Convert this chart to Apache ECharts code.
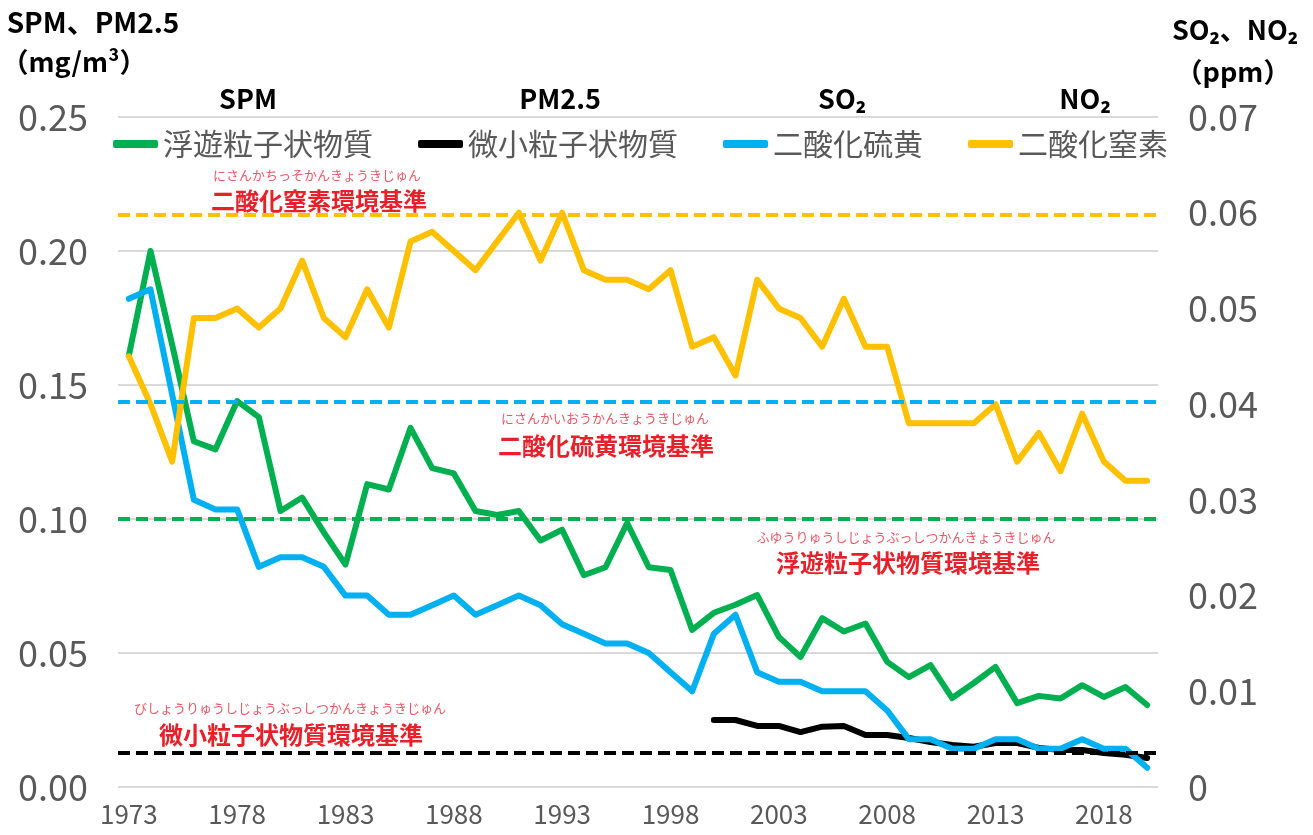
<!DOCTYPE html>
<html>
<head>
<meta charset="utf-8">
<script src="https://cdn.jsdelivr.net/npm/echarts@6/dist/echarts.min.js"></script>
<style>
  html, body { margin: 0; padding: 0; background: #fff; }
  #chart { width: 1313px; height: 835px; }
</style>
</head>
<body>
<div id="chart"></div>
<script>
// 年度 1973〜2020
const years = []
for (let y = 1973; y <= 2020; y++) years.push(String(y))

// 浮遊粒子状物質 SPM (mg/m3)
const spm = [0.161, 0.200, 0.165, 0.129, 0.126, 0.144, 0.138, 0.103, 0.108, 0.095,
  0.083, 0.113, 0.111, 0.134, 0.119, 0.117, 0.103, 0.1015, 0.103, 0.092,
  0.096, 0.079, 0.082, 0.0985, 0.082, 0.081, 0.0586, 0.065, 0.068, 0.0716,
  0.056, 0.0485, 0.063, 0.058, 0.061, 0.0467, 0.041, 0.0455, 0.0332, 0.0388,
  0.0448, 0.0313, 0.034, 0.033, 0.038, 0.0336, 0.0373, 0.0306]

// 微小粒子状物質 PM2.5 (mg/m3)、2000年度から
const pm25 = [null, null, null, null, null, null, null, null, null, null,
  null, null, null, null, null, null, null, null, null, null,
  null, null, null, null, null, null, null, 0.025, 0.025, 0.0228,
  0.0228, 0.0205, 0.0225, 0.0228, 0.0194, 0.0194, 0.0183, 0.0168, 0.0157, 0.015,
  0.0164, 0.0164, 0.0146, 0.0138, 0.0138, 0.0127, 0.012, 0.0108]

// 二酸化硫黄 SO2 (ppm)
const so2 = [0.051, 0.052, 0.041, 0.030, 0.029, 0.029, 0.023, 0.024, 0.024, 0.023,
  0.020, 0.020, 0.018, 0.018, 0.019, 0.020, 0.018, 0.019, 0.020, 0.019,
  0.017, 0.016, 0.015, 0.015, 0.014, 0.012, 0.010, 0.016, 0.018, 0.012,
  0.011, 0.011, 0.010, 0.010, 0.010, 0.008, 0.005, 0.005, 0.004, 0.004,
  0.005, 0.005, 0.004, 0.004, 0.005, 0.004, 0.004, 0.002]

// 二酸化窒素 NO2 (ppm)
const no2 = [0.045, 0.040, 0.034, 0.049, 0.049, 0.050, 0.048, 0.050, 0.055, 0.049,
  0.047, 0.052, 0.048, 0.057, 0.058, 0.056, 0.054, 0.057, 0.060, 0.055,
  0.060, 0.054, 0.053, 0.053, 0.052, 0.054, 0.046, 0.047, 0.043, 0.053,
  0.050, 0.049, 0.046, 0.051, 0.046, 0.046, 0.038, 0.038, 0.038, 0.038,
  0.040, 0.034, 0.037, 0.033, 0.039, 0.034, 0.032, 0.032]

// 環境基準
const spmStd = 0.10
const pm25Std = 0.0127
const so2Std = 0.0402
const no2Std = 0.0598

const FONT = '"Noto Sans CJK JP", "Noto Sans", sans-serif'
const GRAY = '#595959'
const RED = '#e8202a'
const FURI = '#ea5a66'

const stdLine = (val, color) => ({
  silent: true,
  symbol: 'none',
  precision: 5,
  label: { show: false },
  lineStyle: { color: color, type: [12, 6], width: 4 },
  data: [{ yAxis: val }]
})

const lineSeries = (name, data, color, yIdx, std) => ({
  name: name,
  type: 'line',
  yAxisIndex: yIdx,
  data: data,
  symbol: 'none',
  connectNulls: false,
  lineStyle: { color: color, width: 6, cap: 'round', join: 'round' },
  itemStyle: { color: color },
  markLine: stdLine(std, color)
})

const txt = (x, y, text, size, color, weight) => ({
  type: 'text',
  x: x,
  y: y,
  style: {
    text: text,
    fill: color,
    font: `${weight || 'normal'} ${size}px ${FONT}`,
    textAlign: 'center',
    textVerticalAlign: 'middle'
  }
})

const chart = echarts.init(document.getElementById('chart'))
chart.setOption({
  animation: false,
  grid: { left: 118, right: 155, top: 117, bottom: 48 },
  legend: {
    left: 108,
    top: 124,
    itemGap: 45,
    itemWidth: 45,
    itemHeight: 8,
    icon: 'roundRect',
    textStyle: { fontFamily: FONT, fontSize: 30, color: GRAY },
    data: ['浮遊粒子状物質', '微小粒子状物質', '二酸化硫黄', '二酸化窒素']
  },
  xAxis: {
    type: 'category',
    data: years,
    boundaryGap: true,
    axisLine: { show: false },
    axisTick: { show: false },
    axisLabel: { interval: 4, fontSize: 26, color: GRAY, fontFamily: FONT, margin: 14 }
  },
  yAxis: [
    {
      type: 'value',
      min: 0,
      max: 0.25,
      interval: 0.05,
      axisLine: { show: false },
      axisTick: { show: false },
      splitLine: { lineStyle: { color: '#d9d9d9', width: 2 } },
      axisLabel: {
        fontSize: 36, color: GRAY, fontFamily: FONT, margin: 30,
        formatter: v => v.toFixed(2)
      }
    },
    {
      type: 'value',
      min: 0,
      max: 0.07,
      interval: 0.01,
      axisLine: { show: false },
      axisTick: { show: false },
      splitLine: { show: false },
      axisLabel: {
        fontSize: 36, color: GRAY, fontFamily: FONT, margin: 30,
        formatter: v => (v === 0 ? '0' : v.toFixed(2))
      }
    }
  ],
  series: [
    lineSeries('浮遊粒子状物質', spm, '#00b050', 0, spmStd),
    lineSeries('微小粒子状物質', pm25, '#000000', 0, pm25Std),
    lineSeries('二酸化硫黄', so2, '#00b0f0', 1, so2Std),
    lineSeries('二酸化窒素', no2, '#ffc000', 1, no2Std)
  ],
  graphic: [
    // 軸タイトル
    txt(93, 22, 'SPM、PM2.5', 28, '#000', 'bold'),
    txt(74, 62, '（mg/m³）', 27, '#000', 'bold'),
    txt(1235, 30, 'SO₂、NO₂', 27, '#000', 'bold'),
    txt(1233, 72, '（ppm）', 27, '#000', 'bold'),
    // 凡例の上の略称
    txt(248, 99, 'SPM', 27, '#000', 'bold'),
    txt(560, 99, 'PM2.5', 27, '#000', 'bold'),
    txt(842, 99, 'SO₂', 27, '#000', 'bold'),
    txt(1085, 99, 'NO₂', 27, '#000', 'bold'),
    // 環境基準の注記
    txt(317, 175, 'にさんかちっそかんきょうきじゅん', 13, FURI),
    txt(319, 201, '二酸化窒素環境基準', 24, RED, 'bold'),
    txt(605, 418, 'にさんかいおうかんきょうきじゅん', 13, FURI),
    txt(606, 446, '二酸化硫黄環境基準', 24, RED, 'bold'),
    txt(906, 537, 'ふゆうりゅうしじょうぶっしつかんきょうきじゅん', 13, FURI),
    txt(908, 563, '浮遊粒子状物質環境基準', 24, RED, 'bold'),
    txt(290, 708, 'びしょうりゅうしじょうぶっしつかんきょうきじゅん', 13, FURI),
    txt(291, 735, '微小粒子状物質環境基準', 24, RED, 'bold')
  ]
})
</script>
</body>
</html>
